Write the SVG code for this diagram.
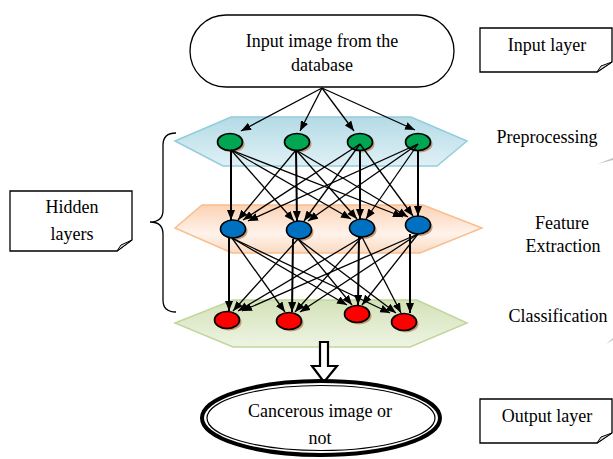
<svg xmlns="http://www.w3.org/2000/svg" width="613" height="459" viewBox="0 0 613 459">
<style>
text{font-family:"Liberation Serif","Times New Roman",serif;font-size:18px;fill:#000;text-anchor:middle}
.note{fill:#fff;stroke:#000;stroke-width:1.3}
.fold{fill:#ddd;stroke:#000;stroke-width:1}
.e{stroke:#000;stroke-width:1.3;fill:none;marker-end:url(#ah)}
.v{stroke-width:2}
.sh{fill:#b8875a;opacity:.8}
.n{stroke:#000;stroke-width:1.6}
.g{fill:#00a651}.b{fill:#0070c0}.r{fill:#ff0000}
</style>
<defs>
<marker id="ah" markerUnits="userSpaceOnUse" markerWidth="10" markerHeight="8" refX="10" refY="4" orient="auto">
<path d="M0,0 L10,4 L0,8 Z" fill="#000"/>
</marker>
<linearGradient id="gb" x1="0" y1="0" x2="0" y2="1">
<stop offset="0" stop-color="#b4dbe6"/><stop offset="1" stop-color="#dff0f5"/>
</linearGradient>
<linearGradient id="go" x1="0" y1="0" x2="0" y2="1">
<stop offset="0" stop-color="#fbd2b2"/><stop offset="0.6" stop-color="#fff3ec"/><stop offset="1" stop-color="#fbd9c0"/>
</linearGradient>
<linearGradient id="gg" x1="0" y1="0" x2="0" y2="1">
<stop offset="0" stop-color="#d3e2b8"/><stop offset="1" stop-color="#eef4e3"/>
</linearGradient>
</defs>

<g id="layer-preprocessing">
<polygon points="175,141 231,117 411,117 467,141 437,166 223,166" fill="url(#gb)" stroke="#93cddd" stroke-width="1.5"/>
</g>
<g id="layer-feature">
<polygon points="175,228 202,205 423,205 482,228 420,253 232,253" fill="url(#go)" stroke="#f9be8f" stroke-width="1.5"/>
</g>
<g id="layer-classification">
<polygon points="175,323 233,300 417,300 467,323 410,347 233,347" fill="url(#gg)" stroke="#c2d69b" stroke-width="1.5"/>
</g>

<g id="input-node">
<rect x="190" y="15" width="264" height="72" rx="36" ry="36" fill="#fff" stroke="#000" stroke-width="1.3"/>
<text x="322" y="47">Input image from the</text>
<text x="322" y="71">database</text>
</g>

<g id="nodes">
<g id="g1"><ellipse class="sh" cx="232" cy="144" rx="12.5" ry="8.5"/><ellipse class="n g" cx="230" cy="142" rx="12.5" ry="8.5"/></g>
<g id="g2"><ellipse class="sh" cx="299" cy="144" rx="12.5" ry="8.5"/><ellipse class="n g" cx="297" cy="142" rx="12.5" ry="8.5"/></g>
<g id="g3"><ellipse class="sh" cx="362" cy="144" rx="12.5" ry="8.5"/><ellipse class="n g" cx="360" cy="142" rx="12.5" ry="8.5"/></g>
<g id="g4"><ellipse class="sh" cx="420" cy="144" rx="12.5" ry="8.5"/><ellipse class="n g" cx="418" cy="142" rx="12.5" ry="8.5"/></g>
<g id="b1"><ellipse class="sh" cx="235" cy="231" rx="12.5" ry="9"/><ellipse class="n b" cx="233" cy="229" rx="12.5" ry="9"/></g>
<g id="b2"><ellipse class="sh" cx="301" cy="232" rx="12.5" ry="9"/><ellipse class="n b" cx="299" cy="230" rx="12.5" ry="9"/></g>
<g id="b3"><ellipse class="sh" cx="364" cy="230" rx="12.5" ry="9"/><ellipse class="n b" cx="362" cy="228" rx="12.5" ry="9"/></g>
<g id="b4"><ellipse class="sh" cx="420" cy="227" rx="12.5" ry="9"/><ellipse class="n b" cx="418" cy="225" rx="12.5" ry="9"/></g>
<g id="r1"><ellipse class="sh" cx="229" cy="322" rx="12.5" ry="8.5"/><ellipse class="n r" cx="227" cy="320" rx="12.5" ry="8.5"/></g>
<g id="r2"><ellipse class="sh" cx="291" cy="323" rx="12.5" ry="8.5"/><ellipse class="n r" cx="289" cy="321" rx="12.5" ry="8.5"/></g>
<g id="r3"><ellipse class="sh" cx="359" cy="316" rx="12.5" ry="8.5"/><ellipse class="n r" cx="357" cy="314" rx="12.5" ry="8.5"/></g>
<g id="r4"><ellipse class="sh" cx="406" cy="324" rx="12.5" ry="8.5"/><ellipse class="n r" cx="404" cy="322" rx="12.5" ry="8.5"/></g>
</g>

<g id="connectors">
<line class="e" x1="322" y1="88" x2="241" y2="131"/>
<line class="e" x1="322" y1="88" x2="300" y2="131"/>
<line class="e" x1="322" y1="88" x2="354" y2="131"/>
<line class="e" x1="322" y1="88" x2="415" y2="130"/>

<line class="e v" x1="231" y1="150" x2="231" y2="220"/>
<line class="e" x1="231" y1="150" x2="294" y2="221"/>
<line class="e" x1="231" y1="150" x2="351" y2="219"/>
<line class="e" x1="231" y1="150" x2="403" y2="217"/>
<line class="e" x1="296" y1="150" x2="238" y2="220"/>
<line class="e v" x1="296" y1="150" x2="297" y2="221"/>
<line class="e" x1="296" y1="150" x2="357" y2="219"/>
<line class="e" x1="296" y1="150" x2="408" y2="217"/>
<line class="e" x1="360" y1="144" x2="243" y2="220"/>
<line class="e" x1="360" y1="144" x2="304" y2="221"/>
<line class="e v" x1="360" y1="150" x2="360" y2="219"/>
<line class="e" x1="360" y1="144" x2="413" y2="216"/>
<line class="e" x1="418" y1="144" x2="248" y2="221"/>
<line class="e" x1="418" y1="144" x2="308" y2="221"/>
<line class="e" x1="418" y1="144" x2="366" y2="219"/>
<line class="e v" x1="418" y1="150" x2="418" y2="216"/>

<line class="e v" x1="229" y1="238" x2="229" y2="311"/>
<line class="e" x1="232" y1="238" x2="285" y2="312"/>
<line class="e" x1="232" y1="238" x2="347" y2="305"/>
<line class="e" x1="232" y1="238" x2="390" y2="313"/>
<line class="e" x1="298" y1="239" x2="233" y2="311"/>
<line class="e v" x1="293" y1="239" x2="292" y2="312"/>
<line class="e" x1="298" y1="239" x2="352" y2="305"/>
<line class="e" x1="298" y1="239" x2="396" y2="313"/>
<line class="e" x1="362" y1="237" x2="238" y2="311"/>
<line class="e" x1="362" y1="237" x2="295" y2="312"/>
<line class="e v" x1="359" y1="237" x2="358" y2="305"/>
<line class="e" x1="362" y1="237" x2="401" y2="313"/>
<line class="e" x1="418" y1="234" x2="242" y2="311"/>
<line class="e" x1="418" y1="234" x2="300" y2="312"/>
<line class="e" x1="418" y1="234" x2="362" y2="305"/>
<line class="e v" x1="410" y1="234" x2="410" y2="313"/>

<path d="M320,342 H328 V366 H337 L324,382 L312,366 H320 Z" fill="#fff" stroke="#000" stroke-width="2.2" stroke-linejoin="miter"/>
</g>

<g id="brace">
<path d="M176,133 Q163,133 163,145 L163,210 Q163,222 150,222 Q163,222 163,234 L163,300 Q163,312 176,312" fill="none" stroke="#000" stroke-width="1.3"/>
</g>

<g id="output-node">
<ellipse cx="321" cy="418" rx="119" ry="37" fill="#fff" stroke="#000" stroke-width="4"/>
<ellipse cx="321" cy="418" rx="114" ry="32.5" fill="none" stroke="#000" stroke-width="1.2"/>
<text x="320" y="417">Cancerous image or</text>
<text x="320" y="444">not</text>
</g>

<g id="note-input">
<path class="note" d="M480,28 H612 V62 L597,72 H480 Z"/>
<polygon class="fold" points="597,72 601,66 612,62"/>
<text x="547" y="51">Input layer</text>
</g>
<g id="note-hidden">
<path class="note" d="M10,191 H132 V240 L117,251 H10 Z"/>
<polygon class="fold" points="117,251 121,245 132,240"/>
<text x="72" y="213">Hidden</text>
<text x="72" y="240">layers</text>
</g>
<g id="note-output">
<path class="note" d="M480,399 H612 V433 L597,443 H480 Z"/>
<polygon class="fold" points="597,443 601,437 612,433"/>
<text x="547" y="422">Output layer</text>
</g>

<g id="labels">
<text x="547" y="143">Preprocessing</text>
<text x="562" y="229">Feature</text>
<text x="563" y="252">Extraction</text>
<text x="558" y="322">Classification</text>
<polygon points="597,164 613,158 613,160" fill="#c0c0c0"/>
<polygon points="606,344 613,338 613,340" fill="#c8c8c8"/>
</g>
</svg>
